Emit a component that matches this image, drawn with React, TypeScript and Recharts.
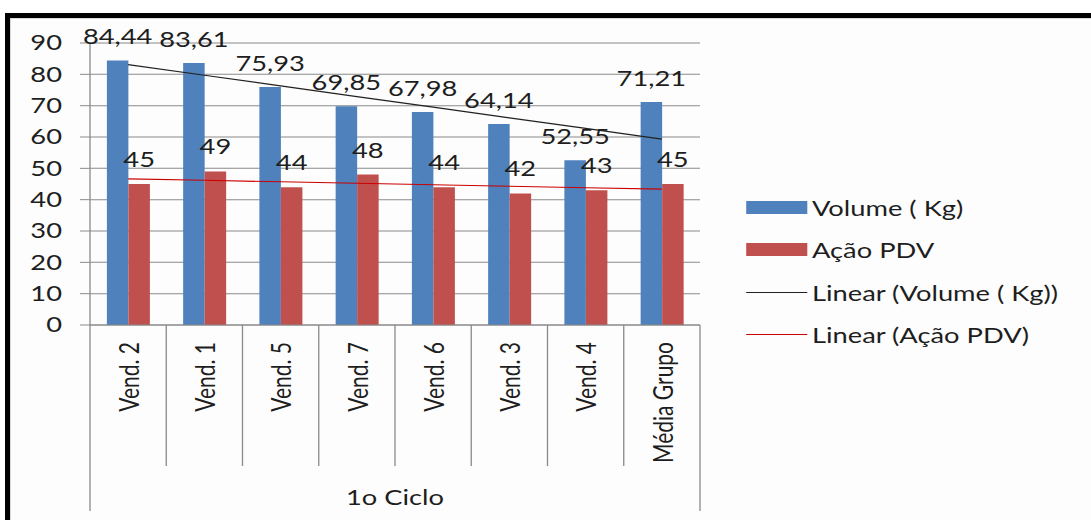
import React from "react";
import {
  ComposedChart,
  Bar,
  Line,
  XAxis,
  YAxis,
  CartesianGrid,
  Legend,
  LabelList,
} from "recharts";

const categories = [
  "Vend. 2",
  "Vend. 1",
  "Vend. 5",
  "Vend. 7",
  "Vend. 6",
  "Vend. 3",
  "Vend. 4",
  "Média Grupo",
];
const volumeKg = [84.44, 83.61, 75.93, 69.85, 67.98, 64.14, 52.55, 71.21];
const acaoPdv = [45, 49, 44, 48, 44, 42, 43, 45];
const yTicks = [0, 10, 20, 30, 40, 50, 60, 70, 80, 90];
const groupLabel = "1o Ciclo";
const seriesNames = [
  "Volume ( Kg)",
  "Ação PDV",
  "Linear (Volume ( Kg))",
  "Linear (Ação PDV)",
];

// least-squares fit over the category index, like a spreadsheet "Linear" trendline
function linearTrend(values: number[]): number[] {
  const n = values.length;
  const mx = (n + 1) / 2;
  const my = values.reduce((a, b) => a + b, 0) / n;
  let sxy = 0;
  let sxx = 0;
  values.forEach((v, i) => {
    sxy += (i + 1 - mx) * (v - my);
    sxx += (i + 1 - mx) ** 2;
  });
  const slope = sxy / sxx;
  return values.map((_, i) => my + slope * (i + 1 - mx));
}

const volumeTrend = linearTrend(volumeKg);
const acaoTrend = linearTrend(acaoPdv);

const data = categories.map((name, i) => ({
  name,
  volume: volumeKg[i],
  acao: acaoPdv[i],
  volumeTrend: volumeTrend[i],
  acaoTrend: acaoTrend[i],
}));

// the whole chart is drawn a bit wide
const STRETCH = 1.3;
const W = 1091 / STRETCH;
const H = 520;
const PLOT_LEFT = 90 / STRETCH;
const PLOT_RIGHT = 700 / STRETCH;
const PLOT_TOP = 43;
const AXIS_H = 195;
const BAND = (PLOT_RIGHT - PLOT_LEFT) / categories.length;

const FONT = "Lato, sans-serif";
const TEXT = "#1e1e1e";
const AXIS = "#8a8a8a";
const BLUE = "#4f81bd";
const RED = "#c0504d";

const fmtComma = (v: any) => Number(v).toFixed(2).replace(".", ",");

function CategoryTick(props: any) {
  const { x, y, payload, index } = props;
  const left = x - BAND / 2;
  const last = index === categories.length - 1;
  return (
    <g>
      <line
        x1={left}
        x2={left}
        y1={y}
        y2={y + (index === 0 ? 186 : 141)}
        stroke={AXIS}
      />
      {last && (
        <line
          x1={x + BAND / 2}
          x2={x + BAND / 2}
          y1={y}
          y2={y + 186}
          stroke={AXIS}
        />
      )}
      <text
        transform={`translate(${x},${y + 17}) rotate(-90)`}
        textAnchor="end"
        dominantBaseline="central"
        fill={TEXT}
        fontSize={21}
        fontFamily={FONT}
      >
        {payload.value}
      </text>
    </g>
  );
}

function LegendContent(props: any) {
  const items = [...(props.payload || [])].sort(
    (a: any, b: any) =>
      seriesNames.indexOf(a.value) - seriesNames.indexOf(b.value)
  );
  return (
    <div style={{ fontFamily: FONT, fontSize: 21, color: TEXT }}>
      {items.map((item: any) => (
        <div
          key={item.value}
          style={{ display: "flex", alignItems: "center", height: 42.3 }}
        >
          {item.type === "line" ? (
            <div
              style={{ width: 46.6, height: 1.4, background: item.color }}
            />
          ) : (
            <div style={{ width: 46.6, height: 13, background: item.color }} />
          )}
          <span style={{ marginLeft: 3.6, whiteSpace: "nowrap" }}>
            {item.value}
          </span>
        </div>
      ))}
    </div>
  );
}

export default function App() {
  return (
    <div
      style={{
        position: "absolute",
        left: 0,
        top: 0,
        width: 1091,
        height: 520,
        overflow: "hidden",
        background: "#ffffff",
      }}
    >
      <div
        style={{
          position: "absolute",
          left: 5,
          top: 13,
          right: -10,
          bottom: -10,
          borderTop: "5px solid #000",
          borderLeft: "5px solid #000",
          background: "#fdfdfd",
          boxShadow: "inset 1px 1px 0 #d8d8d8",
        }}
      />
      <div
        style={{
          position: "absolute",
          left: 0,
          top: 0,
          width: W,
          height: H,
          transform: `scaleX(${STRETCH})`,
          transformOrigin: "0 0",
        }}
      >
        <ComposedChart
          width={W}
          height={H}
          data={data}
          margin={{ top: PLOT_TOP, right: W - PLOT_RIGHT, bottom: 0, left: 0 }}
          barGap={0}
        >
          <CartesianGrid vertical={false} stroke={AXIS} />
          <XAxis
            dataKey="name"
            height={AXIS_H}
            interval={0}
            tickSize={0}
            tickMargin={0}
            tickLine={false}
            axisLine={{ stroke: AXIS }}
            tick={<CategoryTick />}
            label={{
              value: groupLabel,
              position: "insideBottom",
              offset: 15,
              fill: TEXT,
              fontSize: 21,
              fontFamily: FONT,
            }}
          />
          <YAxis
            domain={[0, 90]}
            ticks={yTicks}
            interval={0}
            width={PLOT_LEFT}
            tickSize={7.7}
            tickMargin={13.8}
            axisLine={{ stroke: AXIS }}
            tickLine={{ stroke: AXIS }}
            tick={{ fill: TEXT, fontSize: 21, fontFamily: FONT }}
          />
          <Legend
            layout="vertical"
            align="center"
            verticalAlign="middle"
            wrapperStyle={{ left: 746.7 / STRETCH, top: 186.5, width: 260 }}
            content={<LegendContent />}
          />
          <Bar
            dataKey="volume"
            name={seriesNames[0]}
            fill={BLUE}
            barSize={21.5 / STRETCH}
            isAnimationActive={false}
          >
            <LabelList
              dataKey="volume"
              position="top"
              offset={16}
              formatter={fmtComma}
              fill={TEXT}
              fontSize={21}
              fontFamily={FONT}
            />
          </Bar>
          <Bar
            dataKey="acao"
            name={seriesNames[1]}
            fill={RED}
            barSize={21.5 / STRETCH}
            isAnimationActive={false}
          >
            <LabelList
              dataKey="acao"
              position="top"
              offset={17}
              fill={TEXT}
              fontSize={21}
              fontFamily={FONT}
            />
          </Bar>
          <Line
            dataKey="volumeTrend"
            name={seriesNames[2]}
            type="linear"
            stroke="#222222"
            strokeWidth={1.2}
            dot={false}
            activeDot={false}
            legendType="line"
            isAnimationActive={false}
          />
          <Line
            dataKey="acaoTrend"
            name={seriesNames[3]}
            type="linear"
            stroke="#cc0000"
            strokeWidth={1.2}
            dot={false}
            activeDot={false}
            legendType="line"
            isAnimationActive={false}
          />
        </ComposedChart>
      </div>
    </div>
  );
}
